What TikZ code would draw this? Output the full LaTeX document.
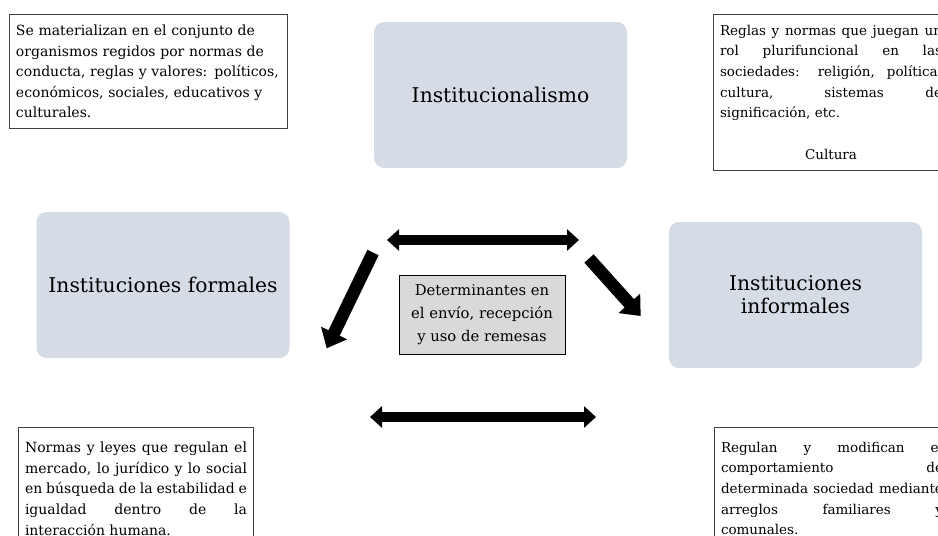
\documentclass[tikz,border=0pt]{standalone}
\usepackage{fontspec}
\setmainfont{DejaVu Serif}
\usetikzlibrary{arrows.meta}
\newlength{\du}
\setlength{\du}{1pt}
\newcommand{\notefont}{\fontsize{14}{20.6}\selectfont\hyphenpenalty=10000\relax}
\newcommand{\notefontright}{\fontsize{13.5}{20.6}\selectfont\hyphenpenalty=10000\relax}
\definecolor{boxfill}{rgb}{0.839216, 0.862745, 0.898039}
\definecolor{centerfill}{rgb}{0.850980, 0.850980, 0.850980}
\definecolor{noteline}{rgb}{0.250980, 0.250980, 0.250980}
\tikzset{
  roundbox/.style={fill=boxfill, rounded corners=10\du, minimum width=253\du,
    minimum height=146\du, align=center, inner sep=0pt,
    font=\fontsize{20.3}{23}\selectfont},
  notebox/.style={draw=noteline, fill=white, line width=1\du, anchor=north west,
    inner xsep=6.5\du, inner ysep=3\du, font=\notefont},
  centerbox/.style={draw=black, fill=centerfill, line width=1\du,
    minimum width=166\du, minimum height=79\du, inner sep=0pt, align=center,
    font=\fontsize{14.8}{23}\selectfont},
  blockarrow/.style={line width=12.5pt, -{Triangle[length=17pt,width=28pt]}},
  twoway/.style={line width=10pt,
    {Triangle[length=12pt,width=21pt]}-{Triangle[length=12pt,width=21pt]}},
}

\begin{document}
\begin{tikzpicture}
\pgftransformxscale{1.000000}
\pgftransformyscale{-1.000000}
\clip (0\du,0\du) rectangle (938\du,536\du);
% boxes
\node[roundbox] (inst) at (500.500000\du,95.000000\du){Institucionalismo};
\node[roundbox] (formales) at (163.000000\du,285.000000\du){Instituciones formales};
\node[roundbox] (informales) at (795.500000\du,295.000000\du){Instituciones\\informales};
\node[centerbox] (remesas) at (482.000000\du,314.500000\du){Determinantes en\\el envío, recepción\\y uso de remesas};
% setfont left to latex
\node[notebox, text width=265\du, minimum height=114\du, align=left] (notainst) at (9.000000\du,14.000000\du){Se materializan en el conjunto de\\organismos regidos por normas de\\conducta, reglas y valores: políticos,\\económicos, sociales, educativos y\\culturales.};
\node[notebox, font=\notefontright, text width=222\du, minimum height=156\du, align=justify] (notacultura) at (713.000000\du,14.000000\du){Reglas y normas que juegan un\linebreak rol plurifuncional en las\linebreak sociedades: religión, política,\linebreak cultura, sistemas de\linebreak significación, etc.\par\vspace{21.5\du}\centerline{Cultura}};
\node[notebox, text width=222\du, inner ysep=14.5\du, align=justify] (notaformales) at (18.000000\du,427.000000\du){Normas y leyes que regulan el\linebreak mercado, lo jurídico y lo social\linebreak en búsqueda de la estabilidad e\linebreak igualdad dentro de la\linebreak interacción humana.};
\node[notebox, font=\notefontright, text width=222\du, inner ysep=14.5\du, align=justify] (notainformales) at (714.000000\du,427.000000\du){Regulan y modifican el\linebreak comportamiento de\linebreak determinada sociedad mediante\linebreak arreglos familiares y\linebreak comunales.};
% arrows
\coordinate (arribaA) at (387.000000\du,240.000000\du);
\coordinate (arribaB) at (579.000000\du,240.000000\du);
\coordinate (abajoA) at (370.000000\du,417.000000\du);
\coordinate (abajoB) at (596.000000\du,417.000000\du);
\coordinate (izqA) at (373.000000\du,252.500000\du);
\coordinate (izqB) at (326.700000\du,348.300000\du);
\coordinate (derA) at (589.000000\du,258.500000\du);
\coordinate (derB) at (640.700000\du,316.000000\du);
\draw[twoway] (arribaA)--(arribaB);
\draw[twoway] (abajoA)--(abajoB);
\draw[blockarrow] (izqA)--(izqB);
\draw[blockarrow] (derA)--(derB);
\end{tikzpicture}
\end{document}
